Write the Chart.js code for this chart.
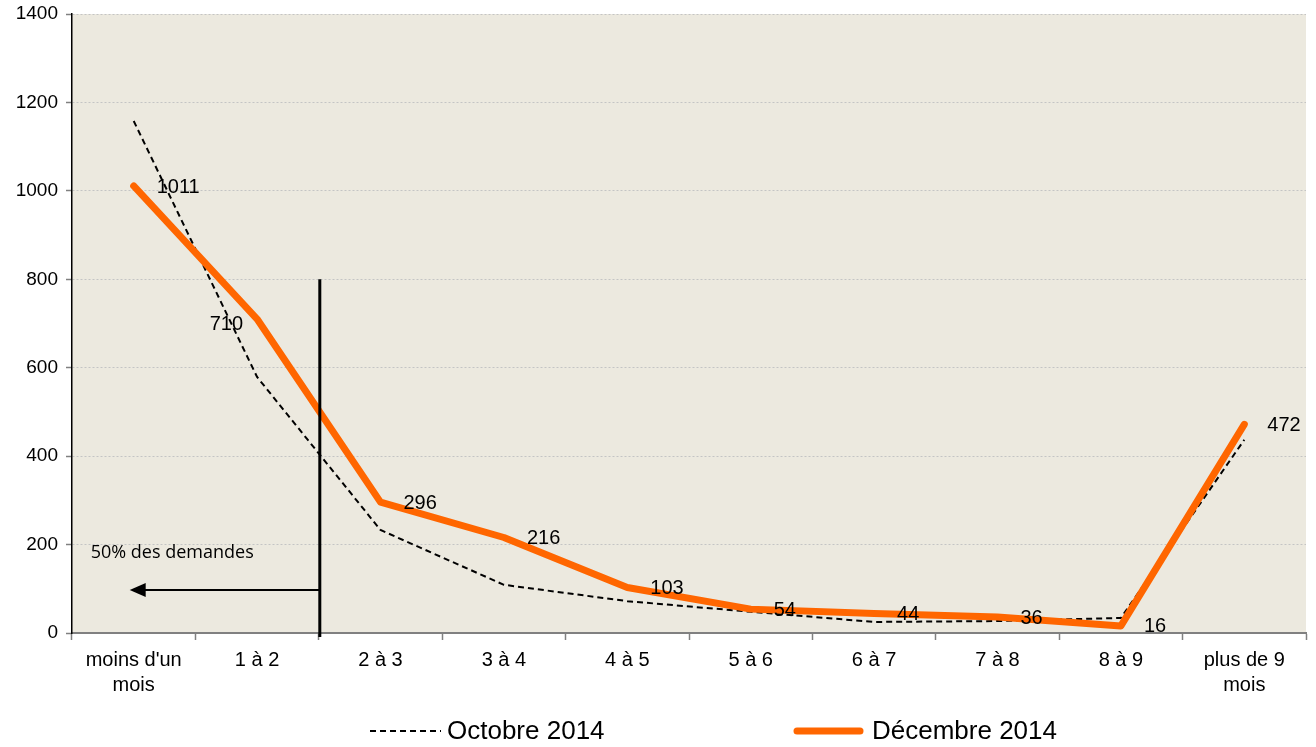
<!DOCTYPE html>
<html><head><meta charset="utf-8">
<script src="https://cdn.jsdelivr.net/npm/chart.js@4.4.0/dist/chart.umd.min.js"></script>
<style>html,body{margin:0;padding:0;background:#fff;} #wrap{width:1316px;height:747px;position:relative;} canvas{display:block;}</style>
</head><body><div id="wrap"><canvas id="c" width="1316" height="747"></canvas></div>
<script>
const categories = [["moins d'un","mois"],"1 à 2","2 à 3","3 à 4","4 à 5","5 à 6","6 à 7","7 à 8","8 à 9",["plus de 9","mois"]];
const octobre2014 = [1158, 579, 233, 109, 72, 48, 25, 27, 34, 437];
const decembre2014 = [1011, 710, 296, 216, 103, 54, 44, 36, 16, 472];
const decembreLabels = ["1011","710","296","216","103","54","44","36","16","472"];
const yTicks = [0, 200, 400, 600, 800, 1000, 1200, 1400];
const seriesNames = ["Octobre 2014", "Décembre 2014"];
const annotationText = "50% des demandes";
const markerLineTop = 800;     // value where the vertical separator starts
const markerArrowValue = 97;   // value of the arrow
const markerTextValue = 181;   // value of the text

const ORANGE = '#FF6600';
const FONT = '"Liberation Sans", Arial, sans-serif';

const bgPlugin = {
  id: 'bg',
  beforeDraw(chart) {
    const {ctx, chartArea: a} = chart;
    ctx.save();
    ctx.fillStyle = '#ECE9DF';
    ctx.fillRect(a.left, a.top, a.right - a.left, a.bottom - a.top);
    ctx.restore();
  }
};

const overlayPlugin = {
  id: 'overlay',
  afterDatasetsDraw(chart) {
    const {ctx} = chart;
    const x = chart.scales.x, y = chart.scales.y;
    const meta = chart.getDatasetMeta(1);
    ctx.save();
    ctx.font = '20px ' + FONT;
    ctx.fillStyle = '#000';
    ctx.textBaseline = 'middle';
    meta.data.forEach((pt, i) => {
      if (i === 1) {
        ctx.textAlign = 'right';
        ctx.fillText(decembreLabels[i], pt.x - 14, pt.y + 5);
      } else {
        ctx.textAlign = 'left';
        ctx.fillText(decembreLabels[i], pt.x + 23, pt.y + 1);
      }
    });
    const vx = x.getPixelForValue(1.5) + 1;
    ctx.strokeStyle = '#000';
    ctx.lineWidth = 3;
    ctx.beginPath();
    ctx.moveTo(vx, y.getPixelForValue(markerLineTop));
    ctx.lineTo(vx, y.getPixelForValue(0) + 4);
    ctx.stroke();
    const ay = y.getPixelForValue(markerArrowValue);
    const tipX = x.getPixelForValue(0) - 4;
    ctx.lineWidth = 2;
    ctx.beginPath();
    ctx.moveTo(vx, ay);
    ctx.lineTo(tipX + 14, ay);
    ctx.stroke();
    ctx.fillStyle = '#000';
    ctx.beginPath();
    ctx.moveTo(tipX, ay);
    ctx.lineTo(tipX + 16, ay - 7);
    ctx.lineTo(tipX + 16, ay + 7);
    ctx.closePath();
    ctx.fill();
    ctx.font = '18px "Open Sans", "Noto Sans", sans-serif';
    ctx.textAlign = 'left';
    ctx.textBaseline = 'middle';
    ctx.fillText(annotationText, x.getPixelForValue(0) - 43, y.getPixelForValue(markerTextValue));
    ctx.restore();
  },
  afterDraw(chart) {
    const {ctx} = chart;
    const ly = 731;
    ctx.save();
    ctx.font = '26px ' + FONT;
    ctx.fillStyle = '#000';
    ctx.textBaseline = 'middle';
    ctx.textAlign = 'left';
    ctx.strokeStyle = '#000';
    ctx.lineWidth = 2;
    ctx.setLineDash([6, 4]);
    ctx.beginPath(); ctx.moveTo(370, ly); ctx.lineTo(441, ly); ctx.stroke();
    ctx.setLineDash([]);
    ctx.fillText(seriesNames[0], 447, ly + 1);
    ctx.strokeStyle = ORANGE;
    ctx.lineWidth = 7;
    ctx.lineCap = 'round';
    ctx.beginPath(); ctx.moveTo(797, ly); ctx.lineTo(860, ly); ctx.stroke();
    ctx.fillText(seriesNames[1], 872, ly + 1);
    ctx.restore();
  }
};

new Chart(document.getElementById('c'), {
  type: 'line',
  data: {
    labels: categories,
    datasets: [
      { label: seriesNames[0], data: octobre2014, borderColor: '#000', borderWidth: 2, borderDash: [6, 4],
        pointRadius: 0, tension: 0, fill: false, order: 1 },
      { label: seriesNames[1], data: decembre2014, borderColor: ORANGE, borderWidth: 7, borderCapStyle: 'round',
        borderJoinStyle: 'round', pointRadius: 0, tension: 0, fill: false, order: 0 }
    ]
  },
  options: {
    responsive: false,
    animation: false,
    devicePixelRatio: 1,
    layout: { padding: { top: 14, right: 10, left: 0, bottom: 0 } },
    plugins: { legend: { display: false }, tooltip: { enabled: false } },
    scales: {
      x: {
        type: 'category',
        offset: true,
        grid: { offset: true, drawOnChartArea: false, drawTicks: true, tickLength: 7, tickColor: '#808080', tickWidth: 1.5 },
        border: { display: true, color: '#808080', width: 2 },
        ticks: { color: '#000', font: { family: FONT, size: 20, lineHeight: 1.25 }, padding: 8, maxRotation: 0, autoSkip: false },
        afterFit(s) { s.height = 114; }
      },
      y: {
        min: 0, max: 1400,
        afterBuildTicks(s) { s.ticks = yTicks.map(v => ({ value: v })); },
        grid: { color: '#C4C4C4', lineWidth: 1, drawTicks: true, tickLength: 6, tickColor: '#808080', tickWidth: 1.5, tickBorderDash: [] },
        border: { display: true, color: '#000', width: 1.5, dash: [2, 2] },
        ticks: { color: '#000', font: { family: FONT, size: 19, lineHeight: 0.6 }, padding: 8, callback: (v) => String(v) },
        afterFit(s) { s.width = 72; }
      }
    }
  },
  plugins: [bgPlugin, overlayPlugin]
});
</script>
</body></html>
